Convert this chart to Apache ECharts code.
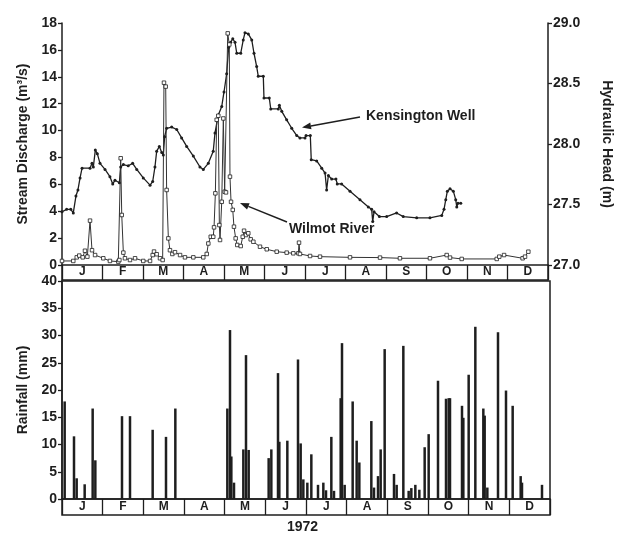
<!DOCTYPE html>
<html>
<head>
<meta charset="utf-8">
<script src="https://cdn.jsdelivr.net/npm/echarts@6/dist/echarts.min.js"></script>
<style>
html,body{margin:0;padding:0;background:#fff}
#chart{width:625px;height:535px}
</style>
</head>
<body>
<div id="chart"></div>
<script>
// month band labels
var months = ['J', 'F', 'M', 'A', 'M', 'J', 'J', 'A', 'S', 'O', 'N', 'D'];

// Kensington Well, hydraulic head (m) by day of 1972
var wellDay = [0, 3.5, 6.6, 8.5, 10.5, 12, 13.6, 15.1, 21.1, 22.6, 23.6, 25.1, 26.6, 28.6, 32.4, 36.1, 38.2, 39.9, 43.2,
  44.2, 46.2, 49.9, 53.2, 56.3, 61.2, 66.3, 68.3, 70, 71.3, 73.3, 75.1, 76.3, 77.3, 78.8, 82.6, 86.4, 90.1, 93.9, 98.9,
  103.9, 106.4, 110.2, 113.9, 115.2, 117.7, 120.3, 122, 124, 125.5, 127, 128.6, 130.3, 131.6, 134.6, 136.5, 137.8,
  140.3, 142.9, 144.6, 146.6, 147.8, 151.6, 152.1, 156.1, 157.2, 162.9, 163.7, 165.5, 169.2, 173, 176.8, 179.2, 183,
  183.8, 187, 187.7, 191.8, 195.6, 198.1, 199.3, 200.6, 203.1, 206.3, 207.3, 210.6, 216.9, 224.4, 230.7, 233.2, 234,
  235, 239, 244.5, 252, 257, 267.1, 277.1, 286, 287.7, 289, 290.2, 292.2, 294.7, 296.5, 297.3, 298.2, 300.3];
var wellHead = [27.44, 27.46, 27.46, 27.43, 27.57, 27.62, 27.72, 27.80, 27.80, 27.84, 27.81, 27.95, 27.92, 27.84, 27.79,
  27.73, 27.67, 27.70, 27.68, 27.81, 27.83, 27.82, 27.84, 27.79, 27.72, 27.66, 27.69, 27.81, 27.94, 27.98, 27.93, 27.91,
  28.06, 28.13, 28.14, 28.12, 28.05, 27.98, 27.90, 27.81, 27.79, 27.84, 27.94, 28.09, 28.24, 28.31, 28.43, 28.58, 28.80,
  28.84, 28.87, 28.84, 28.75, 28.75, 28.86, 28.92, 28.91, 28.86, 28.75, 28.64, 28.56, 28.56, 28.38, 28.38, 28.29, 28.29,
  28.32, 28.27, 28.20, 28.13, 28.07, 28.05, 28.05, 28.07, 28.07, 27.87, 27.86, 27.80, 27.76, 27.62, 27.74, 27.71, 27.71,
  27.67, 27.67, 27.61, 27.54, 27.48, 27.46, 27.36, 27.44, 27.40, 27.40, 27.43, 27.40, 27.39, 27.39, 27.41, 27.46, 27.54,
  27.61, 27.63, 27.61, 27.54, 27.48, 27.51, 27.51];

// Wilmot River, stream discharge (m3/s)
var riverDay = [0, 8.5, 11.1, 13, 15.6, 17.3, 19.1, 21.1, 22.6, 24.9, 31.1, 36.1, 42.4, 43.2, 44.2, 45, 46.2, 47.4, 51.2,
  55, 61.2, 66.3, 68.3, 69.3, 71.3, 73.8, 75.8, 76.8, 78.1, 78.8, 80.1, 81.3, 83.1, 85.1, 88.9, 92.6, 98.9, 106.4, 109,
  110.2, 112, 113.9, 114.5, 115.5, 116.5, 117.7, 118.5, 119, 120.3, 121.5, 122.5, 123.5, 124.8, 126, 126.5, 127.3, 128.6,
  129.5, 130.8, 132, 134.6, 136.1, 137.1, 138.6, 140.3, 142.1, 144.1, 149.1, 154.2, 161.7, 169.2, 174.2, 178, 178.5,
  179.2, 186.8, 194.3, 216.9, 239.5, 254.5, 277.1, 289.7, 292.2, 301, 327.4, 329.3, 332.9, 346.9, 348.7, 351.2];
var riverFlow = [0.3, 0.3, 0.57, 0.7, 0.57, 1.06, 0.62, 3.3, 1.1, 0.74, 0.5, 0.3, 0.25, 0.37, 7.94, 3.72, 0.92, 0.5, 0.37,
  0.5, 0.3, 0.3, 0.74, 1.0, 0.8, 0.5, 0.37, 13.56, 13.27, 5.58, 1.98, 1.1, 0.82, 0.95, 0.74, 0.57, 0.57, 0.57, 0.82,
  1.6, 2.1, 2.1, 2.8, 5.33, 10.8, 11.1, 2.97, 1.86, 4.7, 10.9, 5.45, 5.4, 17.23, 16.4, 6.57, 4.7, 4.1,
  2.85, 1.98, 1.49, 1.41, 2.1, 2.55, 2.23, 2.36, 1.91, 1.73, 1.36, 1.17, 0.99, 0.92, 0.87, 0.87, 1.66,
  0.82, 0.67, 0.62, 0.57, 0.55, 0.5, 0.5, 0.74, 0.55, 0.45, 0.45, 0.62, 0.74, 0.5, 0.62, 0.99];

// daily rainfall (mm)
var rainDay = [2, 9, 11, 17, 23, 25, 45, 51, 68, 78, 85, 124, 126, 127, 129, 136, 138, 140, 155, 157, 162, 163, 169,
  177, 179, 181, 184, 187, 192, 196, 198, 202, 204, 209, 210, 212, 218, 221, 223, 232, 234, 237, 239, 242, 249, 251,
  256, 260, 262, 265, 268, 272, 275, 282, 288, 290, 291, 300, 301, 305, 310, 316, 317, 319, 327, 333, 338, 344, 345, 360];
var rainMm = [17.9, 11.5, 3.8, 2.7, 16.6, 7.1, 15.2, 15.2, 12.7, 11.4, 16.6, 16.6, 31.0, 7.8, 3.0, 9.1, 26.4, 9.0, 7.5,
  9.1, 23.1, 10.5, 10.7, 25.6, 10.2, 3.6, 3.0, 8.2, 2.6, 3.0, 1.6, 11.4, 1.5, 18.5, 28.6, 2.6, 17.9, 10.7, 6.7, 14.3,
  2.1, 4.2, 9.1, 27.5, 4.6, 2.6, 28.1, 1.5, 2.0, 2.6, 1.7, 9.5, 11.9, 21.7, 18.4, 18.5, 18.5, 17.1, 14.9, 22.8, 31.6,
  16.6, 15.3, 2.1, 30.6, 19.9, 17.1, 4.2, 3.0, 2.6];

function zip(a, b) {
  return a.map(function (v, i) { return [v, b[i]]; });
}

var ink = '#1e1e1e';
var font = 'Liberation Sans, Arial, sans-serif';
var lbl = { color: ink, fontFamily: font, fontWeight: 'bold', fontSize: 14 };

function arrow(x1, y1, x2, y2) {
  var dx = x2 - x1, dy = y2 - y1, len = Math.sqrt(dx * dx + dy * dy);
  var ux = dx / len, uy = dy / len, L = 9, W = 3.5;
  var bx = x2 - ux * L, by = y2 - uy * L;
  return [
    { type: 'line', shape: { x1: x1, y1: y1, x2: bx, y2: by }, style: { stroke: ink, lineWidth: 1.5 } },
    { type: 'polygon', shape: { points: [[x2, y2], [bx - uy * W, by + ux * W], [bx + uy * W, by - ux * W]] }, style: { fill: ink } }
  ];
}

function band(idx) {
  return {
    type: 'category', gridIndex: idx, data: months,
    axisLine: { show: false }, axisTick: { show: false },
    axisLabel: { inside: true, interval: 0, margin: 2, color: ink, fontFamily: font, fontWeight: 'bold', fontSize: 12 },
    splitLine: { show: true, interval: 0, lineStyle: { color: ink, width: 1.3 } }
  };
}

var hidden = { type: 'value', show: false, min: 0, max: 1 };

var chart = echarts.init(document.getElementById('chart'));
chart.setOption({
  animation: false,
  grid: [
    { left: 62, width: 486, top: 23, height: 242 },
    { left: 62, width: 486, top: 265, height: 15, show: true, borderColor: ink, borderWidth: 1.5 },
    { left: 62, width: 488, top: 281, height: 218, show: true, borderColor: ink, borderWidth: 1.5 },
    { left: 62, width: 488, top: 499, height: 16, show: true, borderColor: ink, borderWidth: 1.5 }
  ],
  xAxis: [
    { type: 'value', gridIndex: 0, min: 0, max: 366, show: false },
    band(1),
    { type: 'value', gridIndex: 2, min: 0, max: 366, show: false },
    band(3)
  ],
  yAxis: [
    {
      type: 'value', gridIndex: 0, min: 0, max: 18, interval: 2,
      name: 'Stream Discharge (m³/s)', nameLocation: 'middle', nameGap: 28, nameTextStyle: lbl,
      axisLine: { show: true, lineStyle: { color: ink, width: 1.5 } },
      axisTick: { show: true, length: 4, lineStyle: { color: ink, width: 1.3 } },
      axisLabel: Object.assign({ margin: 5 }, lbl), splitLine: { show: false }
    },
    {
      type: 'value', gridIndex: 0, position: 'right', min: 27, max: 29, interval: 0.5,
      name: 'Hydraulic Head (m)', nameLocation: 'middle', nameRotate: -90, nameGap: 52, nameTextStyle: lbl,
      axisLine: { show: true, lineStyle: { color: ink, width: 1.5 } },
      axisTick: { show: true, length: 4, lineStyle: { color: ink, width: 1.3 } },
      axisLabel: Object.assign({ margin: 5, formatter: function (v) { return v.toFixed(1); } }, lbl),
      splitLine: { show: false }
    },
    Object.assign({ gridIndex: 1 }, hidden),
    {
      type: 'value', gridIndex: 2, min: 0, max: 40, interval: 5,
      name: 'Rainfall (mm)', nameLocation: 'middle', nameGap: 30, nameTextStyle: lbl,
      axisLine: { show: true, lineStyle: { color: ink, width: 1.5 } },
      axisTick: { show: true, length: 4, lineStyle: { color: ink, width: 1.3 } },
      axisLabel: Object.assign({ margin: 5 }, lbl), splitLine: { show: false }
    },
    Object.assign({ gridIndex: 3 }, hidden)
  ],
  series: [
    {
      name: 'Kensington Well', type: 'line', xAxisIndex: 0, yAxisIndex: 1,
      data: zip(wellDay, wellHead),
      symbol: 'circle', symbolSize: 3, itemStyle: { color: ink },
      lineStyle: { color: ink, width: 1.3 }
    },
    {
      name: 'Wilmot River', type: 'line', xAxisIndex: 0, yAxisIndex: 0,
      data: zip(riverDay, riverFlow),
      symbol: 'rect', symbolSize: 3.5, itemStyle: { color: '#fff', borderColor: ink, borderWidth: 0.8 },
      lineStyle: { color: '#333', width: 1 }
    },
    {
      name: 'Rainfall', type: 'bar', xAxisIndex: 2, yAxisIndex: 3,
      data: zip(rainDay, rainMm), barWidth: 2.5, itemStyle: { color: ink }
    }
  ],
  graphic: [
    { type: 'text', left: 366, top: 109, style: { text: 'Kensington Well', fill: ink, font: 'bold 14px ' + font } },
    { type: 'text', left: 289, top: 222, style: { text: 'Wilmot River', fill: ink, font: 'bold 14px ' + font } },
    { type: 'text', left: 287, top: 520, style: { text: '1972', fill: ink, font: 'bold 14px ' + font } }
  ].concat(arrow(360, 117, 302, 127.5), arrow(287, 222, 240, 203))
});
</script>
</body>
</html>
